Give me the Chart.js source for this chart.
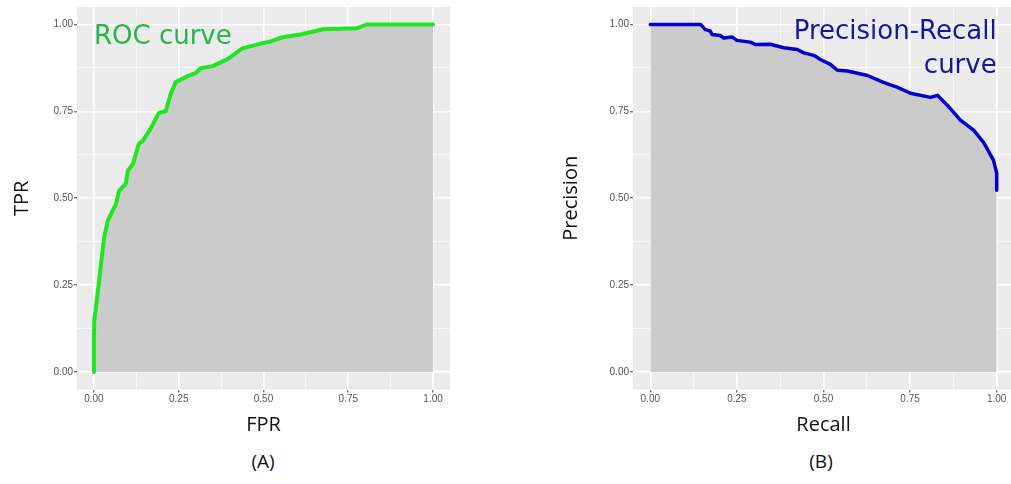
<!DOCTYPE html>
<html>
<head>
<meta charset="utf-8">
<script src="https://cdn.jsdelivr.net/npm/chart.js@4.4.1/dist/chart.umd.min.js"></script>
<style>
  html, body { margin: 0; padding: 0; background: #fff; }
  body { width: 1011px; height: 484px; position: relative; overflow: hidden; }
  canvas { position: absolute; top: 0; }
  .cap { position: absolute; top: 448px; font-family: "Open Sans", sans-serif; font-size: 19px; color: #111; transform: translateX(-50%); }
</style>
</head>
<body>
<div id="elements"></div>
<div class="cap" style="left:263px">(A)</div>
<div class="cap" style="left:821px">(B)</div>
<script>
// ROC curve (A)
var rocFpr = [0, 0, 0.001, 0.012, 0.021, 0.03, 0.041, 0.065, 0.074, 0.094,
              0.1, 0.115, 0.124, 0.132, 0.144, 0.168, 0.191, 0.212, 0.226, 0.241,
              0.276, 0.3, 0.315, 0.35, 0.394, 0.438, 0.497, 0.521, 0.556, 0.609,
              0.676, 0.776, 0.806, 1.0];
var rocTpr = [0, 0.1, 0.149, 0.235, 0.312, 0.387, 0.436, 0.484, 0.521, 0.542,
              0.579, 0.599, 0.628, 0.656, 0.665, 0.702, 0.745, 0.751, 0.799, 0.834,
              0.851, 0.860, 0.874, 0.880, 0.900, 0.931, 0.946, 0.951, 0.963, 0.971,
              0.986, 0.989, 1.0, 1.0];

// Precision-Recall curve (B)
var prRecall = [0, 0.145, 0.159, 0.173, 0.178, 0.202, 0.212, 0.236, 0.250, 0.289,
                0.303, 0.347, 0.385, 0.424, 0.443, 0.472, 0.491, 0.52, 0.540, 0.569,
                0.627, 0.673, 0.714, 0.751, 0.809, 0.829, 0.858, 0.896, 0.934, 0.962,
                0.991, 1.0, 1.0];
var prPrecision = [1, 1, 0.985, 0.981, 0.971, 0.968, 0.961, 0.964, 0.954, 0.949,
                   0.942, 0.943, 0.933, 0.928, 0.918, 0.911, 0.899, 0.885, 0.868, 0.866,
                   0.853, 0.833, 0.819, 0.802, 0.790, 0.796, 0.767, 0.724, 0.695, 0.661,
                   0.609, 0.572, 0.523];

var majorTicks = [0, 0.25, 0.5, 0.75, 1];
var minorTicks = [0.125, 0.375, 0.625, 0.875];
var tickLabels = ["0.00", "0.25", "0.50", "0.75", "1.00"];

function isMajor(v) {
    return majorTicks.some(function(m) { return Math.abs(m - v) < 1e-6; });
}

var panelPlugin = {
    id: "panel",
    beforeDraw: function(chart, args, opts) {
        var a = chart.chartArea, ctx = chart.ctx;
        ctx.save();
        ctx.fillStyle = opts.color;
        ctx.fillRect(a.left, a.top, a.right - a.left, a.bottom - a.top);
        ctx.restore();
    },
    afterDatasetsDraw: function(chart, args, opts) {
        if (!opts.label) return;
        var ctx = chart.ctx, l = opts.label;
        ctx.save();
        ctx.font = l.size + "px 'DejaVu Sans'";
        ctx.fillStyle = l.color;
        ctx.textAlign = l.align;
        ctx.textBaseline = "alphabetic";
        var x = chart.scales.x.getPixelForValue(l.x);
        for (var i = 0; i < l.lines.length; i++) {
            ctx.fillText(l.lines[i], x, chart.scales.y.getPixelForValue(l.y[i]));
        }
        ctx.restore();
    }
};

function axis(title, pos, fixed, titlePad) {
    return {
        type: "linear",
        position: pos,
        min: -0.05,
        max: 1.05,
        afterBuildTicks: function(scale) {
            scale.ticks = majorTicks.concat(minorTicks).sort().map(function(v) { return {value: v}; });
        },
        afterFit: function(scale) {
            if (pos === "left") scale.width = fixed; else scale.height = fixed;
        },
        border: {display: false},
        grid: {
            color: "#ffffff",
            lineWidth: function(c) { return isMajor(c.tick.value) ? 1.6 : 0.7; },
            tickColor: function(c) { return isMajor(c.tick.value) ? "#444" : "rgba(0,0,0,0)"; },
            tickLength: 3,
            tickWidth: 1
        },
        ticks: {
            autoSkip: false,
            maxRotation: 0,
            padding: 1,
            color: "#555",
            font: {family: "Liberation Sans", size: 10},
            callback: function(v) {
                var i = majorTicks.findIndex(function(m) { return Math.abs(m - v) < 1e-6; });
                return i >= 0 ? tickLabels[i] : "";
            }
        },
        title: {
            display: true,
            text: title,
            color: "#111",
            font: {family: "Open Sans", size: 20},
            padding: titlePad
        }
    };
}

var CurvePanel = function(o) {
    var canvas = document.createElement("canvas");
    canvas.width = o.width;
    canvas.height = o.height;
    canvas.style.left = o.left + "px";
    document.getElementById("elements").appendChild(canvas);
    var context = canvas.getContext("2d");

    var points = o.xs.map(function(x, i) { return {x: x, y: o.ys[i]}; });

    this.chart = new Chart(context, {
        type: "line",
        data: {
            datasets: [{
                data: points,
                borderColor: o.lineColor,
                borderWidth: o.lineWidth,
                backgroundColor: "#cbcbcb",
                fill: {value: 0},
                pointRadius: 0,
                tension: 0,
                borderCapStyle: "round",
                borderJoinStyle: "round"
            }]
        },
        options: {
            responsive: false,
            animation: false,
            layout: {padding: o.padding},
            plugins: {
                legend: {display: false},
                tooltip: {enabled: false},
                panel: {color: "#ebebeb", label: o.label}
            },
            scales: {
                x: axis(o.xTitle, "bottom", o.height - o.panelBottom, {top: 0, bottom: 3}),
                y: axis(o.yTitle, "left", o.yAxisWidth, {top: o.yTitlePad, bottom: 0})
            }
        },
        plugins: [panelPlugin]
    });
};

new CurvePanel({
    left: 0, width: 460, height: 440, panelBottom: 389.5, yAxisWidth: 77,
    padding: {top: 5.5, right: 10, left: 0, bottom: 0},
    xs: rocFpr, ys: rocTpr, lineColor: "#1fe61f", lineWidth: 4,
    xTitle: "FPR", yTitle: "TPR", yTitlePad: 10,
    label: {lines: ["ROC curve"], x: 0, y: [0.943], align: "left", color: "#27b54a", size: 26}
});

new CurvePanel({
    left: 550, width: 464, height: 440, panelBottom: 389.5, yAxisWidth: 83,
    padding: {top: 6.5, right: 0, left: 0, bottom: 0},
    xs: prRecall, ys: prPrecision, lineColor: "#0000d0", lineWidth: 3.5,
    xTitle: "Recall", yTitle: "Precision", yTitlePad: 9,
    label: {lines: ["Precision-Recall", "curve"], x: 1, y: [0.957, 0.859], align: "right", color: "#16169a", size: 26}
});
</script>
</body>
</html>
